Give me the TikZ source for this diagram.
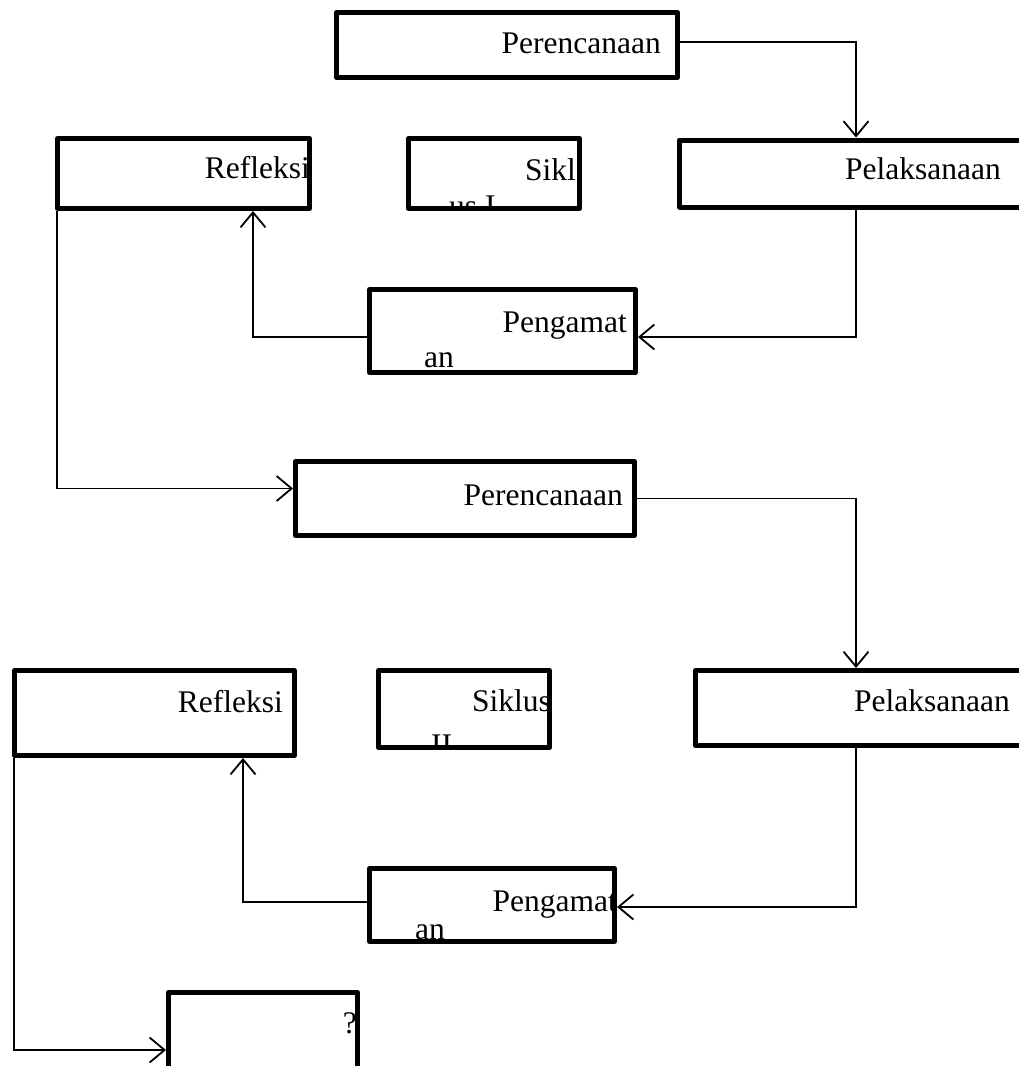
\documentclass[tikz,border=0pt]{standalone}
\usepackage{fontspec}
\setmainfont{Liberation Serif}
\usetikzlibrary{arrows.meta}
\begin{document}
\begin{tikzpicture}[x=1pt,y=-1pt,
  box/.style 2 args={draw, line width=5pt, line join=round, inner sep=0pt, minimum width=#1, minimum height=#2},
  lbl/.style={font=\fontsize{31.5}{36}\selectfont, inner sep=0pt},
  conn/.style={line width=1.8pt},
  arr/.style={conn, -{Straight Barb[length=15pt,width=25pt]}}
]
\useasboundingbox (0,0) rectangle (1019,1066);
\clip (0,0) rectangle (1019,1066);

% boxes
\node[box={341pt}{65pt}] (P1) at (507,45) {};
\node[box={353pt}{67pt}] (L1) at (856,173.5) {};
\node[box={252pt}{70pt}] (R1) at (183.5,173.5) {};
\node[box={171pt}{70pt}] (S1) at (494,173.5) {};
\node[box={266pt}{83pt}] (O1) at (502.5,331) {};
\node[box={339pt}{74pt}] (P2) at (465,498.5) {};
\node[box={342pt}{75pt}] (L2) at (866.5,708) {};
\node[box={280pt}{85pt}] (R2) at (154.5,713) {};
\node[box={171pt}{77pt}] (S2) at (464,709) {};
\node[box={245pt}{73pt}] (O2) at (492,905) {};
\node[box={189pt}{95pt}] (Q) at (263,1040) {};

% labels
\node[lbl, anchor=base east] (tP1) at (661,53) {Perencanaan};
\node[lbl, anchor=base east] (tL1) at (1001,179) {Pelaksanaan};
\node[lbl, anchor=base east] (tR1) at (310,178) {Refleksi};
\begin{scope}
  \clip ([shift={(2.5pt,2.5pt)}]S1.south west) rectangle ([shift={(-2.5pt,-2.5pt)}]S1.north east);
  \node[lbl, anchor=base east] (tS1a) at (576,180) {Sikl};
  \node[lbl, anchor=base west] (tS1b) at (449,216) {us I};
\end{scope}
\node[lbl, anchor=base east] (tO1a) at (627,332) {Pengamat};
\node[lbl, anchor=base west] (tO1b) at (424,367) {an};
\node[lbl, anchor=base east] (tP2) at (623,505) {Perencanaan};
\node[lbl, anchor=base east] (tL2) at (1010,711) {Pelaksanaan};
\node[lbl, anchor=base east] (tR2) at (283,712) {Refleksi};
\begin{scope}
  \clip ([shift={(2.5pt,2.5pt)}]S2.south west) rectangle ([shift={(-2.5pt,-2.5pt)}]S2.north east);
  \node[lbl, anchor=base east] (tS2a) at (551,711) {Siklus};
  \node[lbl, anchor=base west] (tS2b) at (431,755) {II};
\end{scope}
\node[lbl, anchor=base east] (tO2a) at (617,911) {Pengamat};
\node[lbl, anchor=base west] (tO2b) at (415,939) {an};
\node[lbl, anchor=base east] (tQ) at (357,1033) {?};

% connectors
\draw[arr] ([yshift=3pt]P1.east) -| (L1.north);
\draw[arr] (L1.south) |- ([yshift=-6pt]O1.east);
\draw[arr] ([yshift=-6pt]O1.west) -| ([xshift=69.5pt]R1.south);
\draw[arr] ([xshift=2pt]R1.south west) |- ([yshift=10pt]P2.west);
\draw[arr] (P2.east) -| ([xshift=-10.5pt]L2.north);
\draw[arr] ([xshift=-10.5pt]L2.south) |- ([yshift=-2pt]O2.east);
\draw[arr] ([yshift=3pt]O2.west) -| ([xshift=88.5pt]R2.south);
\draw[arr] ([xshift=2pt]R2.south west) |- ([yshift=-10pt]Q.west);
\end{tikzpicture}
\end{document}
